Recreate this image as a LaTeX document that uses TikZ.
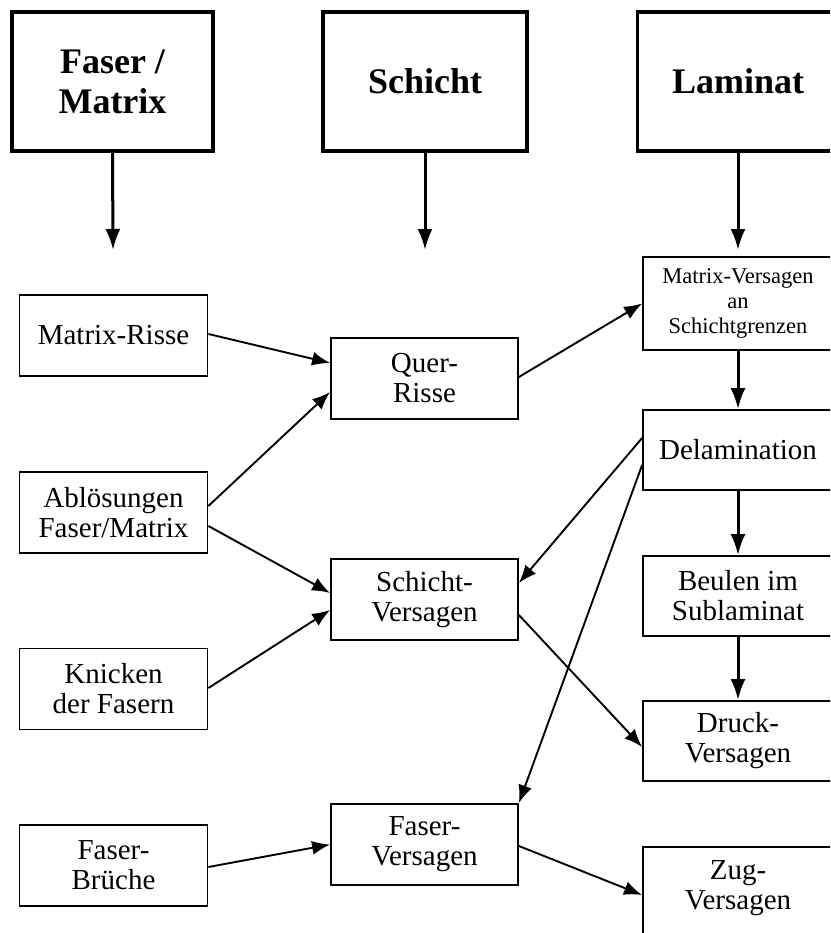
\documentclass[tikz,border=0pt]{standalone}
\usepackage{fontspec}
\setmainfont{Liberation Serif}
\usetikzlibrary{arrows.meta}

\begin{document}
\begin{tikzpicture}
    [line cap=butt,line join=miter,x=1pt,y=-1pt,
     head/.style={draw,line width=3.2pt,minimum width=201pt,minimum height=139pt,inner sep=0pt,align=center,font=\fontsize{36}{40}\selectfont\bfseries},
     box/.style={draw,line width=1.8pt,minimum width=188pt,minimum height=81pt,inner sep=0pt,align=center,font=\fontsize{29}{30}\selectfont},
     pf/.style={line width=1.9pt,-{Latex[length=18pt,width=14pt]}},
     dpf/.style={line width=3pt,-{Latex[length=21pt,width=15pt]}}]
\useasboundingbox (0,0) rectangle (830,933);
\clip (0,0) rectangle (830,933);
%header boxes
 \node[head] (fm) at (112.5,81.5) {Faser /\\Matrix};
 \node[head,minimum width=204pt] (sc) at (425,81.5) {Schicht};
 \node[head] (la) at (738,81.5) {Laminat};
 \coordinate (fma) at (113,250);
 \coordinate (sca) at (425,250);
 \coordinate (laa) at (738,250);
%column fibre/matrix
 \node[box] (mr) at (113.5,335.5) {Matrix-Risse};
 \node[box] (ab) at (113.5,512.5) {Abl\"osungen\\Faser/Matrix};
 \node[box] (kn) at (113.5,689) {Knicken\\der Fasern};
 \node[box] (fb) at (113.5,865.5) {Faser-\\Br\"uche};
%column layer
 \node[box,minimum width=187pt] (qr) at (424.5,378.5) {Quer-\\Risse};
 \node[box,minimum width=187pt] (sv) at (424.5,599.5) {Schicht-\\Versagen};
 \node[box,minimum width=187pt] (fv) at (424.5,844.5) {Faser-\\Versagen};
%column laminate
 \node[box,minimum width=190pt,minimum height=93pt,font=\fontsize{22.5}{25}\selectfont] (mv) at (738,303.5) {Matrix-Versagen\\an\\Schichtgrenzen};
 \node[box,minimum width=190pt,minimum height=80pt] (de) at (738,450) {Delamination};
 \node[box,minimum width=190pt,minimum height=80pt] (be) at (738,596) {Beulen im\\Sublaminat};
 \node[box,minimum width=190pt,minimum height=80pt] (dv) at (738,741) {Druck-\\Versagen};
 \node[box,minimum width=190pt,minimum height=100pt,text depth=25pt] (zv) at (738,897) {Zug-\\Versagen};

%level arrows
 \draw[dpf] (fm.south) -- (fma);
 \draw[dpf] (sc.south) -- (sca);
 \draw[dpf] (la.south) -- (laa);
 \draw[dpf] (mv.south) -- (de.north);
 \draw[dpf] (de.south) -- (be.north);
 \draw[dpf] (be.south) -- (dv.north);

%failure arrows
 \draw[pf] ([yshift=1.5pt]mr.east) -- ([yshift=15.5pt]qr.west);
 \draw[pf] ([yshift=6.5pt]ab.east) -- ([yshift=-13.5pt]qr.west);
 \draw[pf] ([yshift=-13.5pt]ab.east) -- ([yshift=6.5pt]sv.west);
 \draw[pf] ([yshift=1pt]kn.east) -- ([yshift=-10.5pt]sv.west);
 \draw[pf] ([yshift=-1.5pt]fb.east) -- (fv.west);
 \draw[pf] ([yshift=1.5pt]qr.east) -- (mv.west);
 \draw[pf] ([yshift=12pt]de.west) -- ([yshift=16.5pt]sv.east);
 \draw[pf] ([yshift=-15pt]de.west) -- (fv.north east);
 \draw[pf] ([yshift=-15.5pt]sv.east) -- ([yshift=-6pt]dv.west);
 \draw[pf] ([yshift=-1.5pt]fv.east) -- ([yshift=2pt]zv.west);
\end{tikzpicture}
\end{document}
